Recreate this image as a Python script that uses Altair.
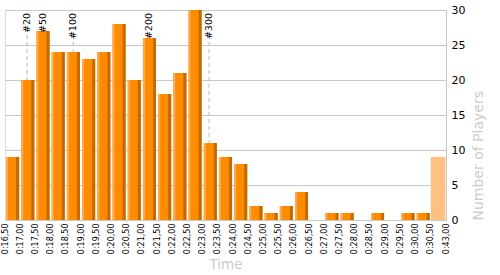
import json
import altair as alt
import pandas as pd

# bin edge labels (last edge is the overflow bin end)
edge_labels = ["0:16,50", "0:17,00", "0:17,50", "0:18,00", "0:18,50", "0:19,00",
               "0:19,50", "0:20,00", "0:20,50", "0:21,00", "0:21,50", "0:22,00",
               "0:22,50", "0:23,00", "0:23,50", "0:24,00", "0:24,50", "0:25,00",
               "0:25,50", "0:26,00", "0:26,50", "0:27,00", "0:27,50", "0:28,00",
               "0:28,50", "0:29,00", "0:29,50", "0:30,00", "0:30,50", "0:43,00"]
counts = [9, 20, 27, 24, 24, 23, 24, 28, 20, 26, 18, 21, 30, 11, 9, 8, 2, 1, 2, 4,
          0, 1, 1, 0, 1, 0, 1, 1, 9]
kinds = ["normal"] * 28 + ["overflow"]

rank_labels = ["#20", "#50", "#100", "#200", "#300"]
rank_pos = [1.45, 2.47, 4.49, 9.49, 13.42]

df = pd.DataFrame({"i": list(range(len(counts))), "count": counts, "kind": kinds})
ann = pd.DataFrame({"label": rank_labels, "pos": rank_pos})

W, H = 441, 210
xscale = alt.Scale(domain=[0, len(counts)], nice=False, zero=False)
yscale = alt.Scale(domain=[0, 30], nice=False)

label_expr = json.dumps(edge_labels) + "[datum.value]"

xaxis = alt.Axis(values=list(range(len(edge_labels))), labelExpr=label_expr,
                 labelAngle=270, labelFontSize=8, labelPadding=3, labelColor="#000",
                 labelFont="DejaVu Sans", labelOverlap=False, labelFlush=False,
                 ticks=False, domain=False, grid=False,
                 title="Time", titleColor="#cccccc", titleFontSize=13.5,
                 titleFontWeight="normal", titleFont="DejaVu Sans",
                 titleY=48, titleBaseline="alphabetic")
yaxis = alt.Axis(orient="right", values=[0, 5, 10, 15, 20, 25, 30], grid=True,
                 gridColor="#c8c8c8", domainColor="#c8c8c8", ticks=False,
                 labelPadding=5, labelFontSize=11, labelColor="#000",
                 labelFont="DejaVu Sans",
                 title="Number of Players", titleColor="#cccccc", titleFontSize=14,
                 titleFontWeight="normal", titleFont="DejaVu Sans",
                 titleAngle=270, titleX=32, titleY=H, titleAlign="left",
                 titleBaseline="middle")

base = alt.Chart(df).transform_calculate(
    x0="datum.i + (datum.kind == 'overflow' ? 0.0 : 0.07)",
    x1="datum.i + (datum.kind == 'overflow' ? 0.96 : 0.93)",
    l1="datum.i + 0.2",
    d0="datum.i + 0.73",
)

rules = alt.Chart(ann).mark_rule(color="#bbbbbb", strokeDash=[4, 3], strokeWidth=1).encode(
    x=alt.X("pos:Q", scale=xscale, axis=xaxis),
    y=alt.value(25), y2=alt.value(H),
)

bars = base.mark_rect().encode(
    x=alt.X("x0:Q", scale=xscale, axis=xaxis),
    x2="x1:Q",
    y=alt.Y("count:Q", scale=yscale, axis=yaxis),
    y2=alt.datum(0),
    color=alt.Color("kind:N", scale=alt.Scale(domain=["normal", "overflow"],
                                               range=["#FF8C00", "#FFC080"]), legend=None),
)

light = base.transform_filter("datum.kind == 'normal'").mark_rect(color="#FFAA50").encode(
    x=alt.X("x0:Q", scale=xscale, axis=xaxis), x2="l1:Q",
    y=alt.Y("count:Q", scale=yscale, axis=yaxis), y2=alt.datum(0),
)
dark = base.transform_filter("datum.kind == 'normal'").mark_rect(color="#C46A00").encode(
    x=alt.X("d0:Q", scale=xscale, axis=xaxis), x2="x1:Q",
    y=alt.Y("count:Q", scale=yscale, axis=yaxis), y2=alt.datum(0),
)

texts = alt.Chart(ann).mark_text(angle=270, align="right", baseline="middle",
                                 fontSize=9.5, font="DejaVu Sans", color="#000").encode(
    x=alt.X("pos:Q", scale=xscale, axis=xaxis),
    y=alt.value(3),
    text="label:N",
)

chart = alt.layer(rules, bars, light, dark, texts).properties(
    width=W, height=H,
    autosize=alt.AutoSizeParams(type="none"),
    padding={"left": 5, "top": 10, "right": 54, "bottom": 55},
).configure_view(stroke="#c8c8c8").configure(background="white")

chart.save("out.html", embed_options={"renderer": "svg", "actions": False})
